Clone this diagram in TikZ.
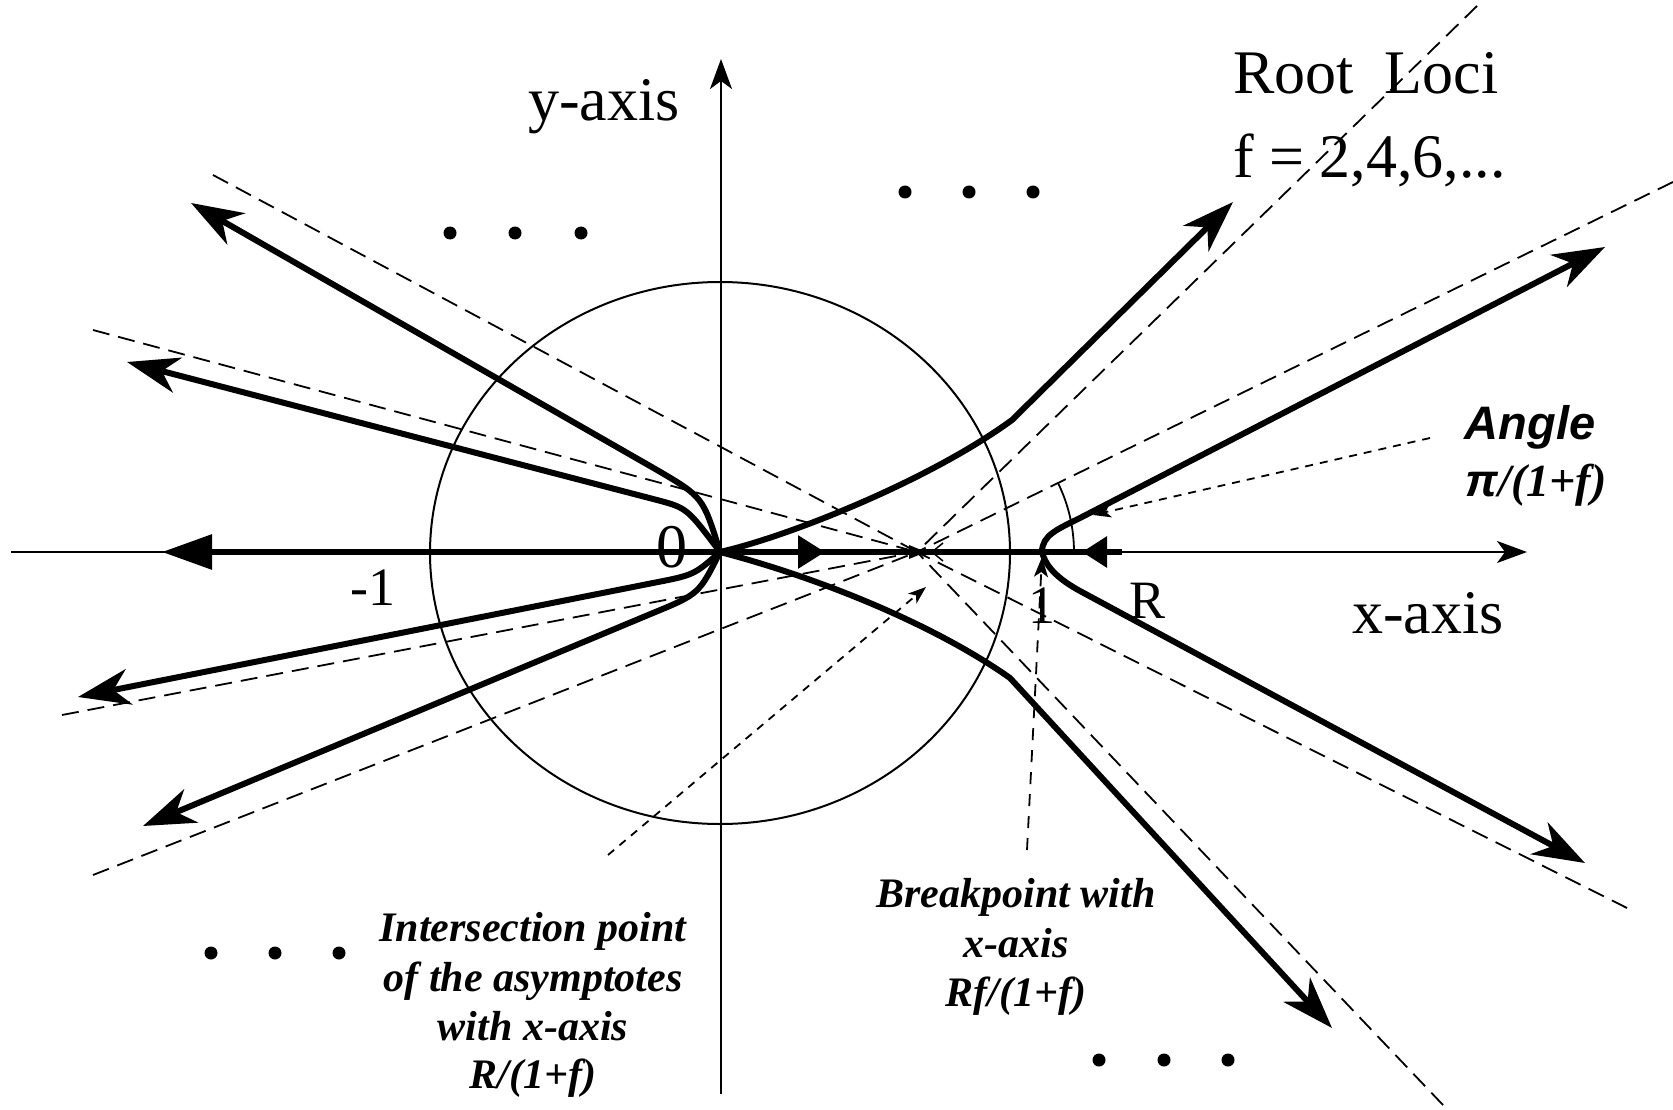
\documentclass[tikz,border=0pt]{standalone}
\usepackage{fontspec}
\setmainfont{Liberation Serif}
\newfontfamily\sansfam{Liberation Sans}
\usetikzlibrary{arrows.meta}
\begin{document}
\begin{tikzpicture}[x=1pt,y=-1pt,
  locus/.style={line width=6pt, line join=round},
  locarrow/.style={locus, -{Stealth[length=52pt,width=36pt,inset=16pt]}},
  axisline/.style={line width=2pt, -{Stealth[length=30pt,width=22pt,inset=8pt]}},
  asym/.style={line width=1.8pt, dash pattern=on 17pt off 9pt},
  pointer/.style={line width=1.8pt, dash pattern=on 8pt off 7pt, -{Stealth[length=18pt,width=13pt,inset=5pt]}},
  lbl/.style={inner sep=0pt},
  roman/.style={lbl, font=\fontsize{62}{70}\selectfont},
  smallroman/.style={lbl, font=\fontsize{54}{60}\selectfont},
  bilabel/.style={lbl, anchor=base, font=\fontsize{42}{50}\selectfont\bfseries\itshape},
  dotmark/.style={circle, fill, inner sep=0pt, minimum size=13pt},
]
\useasboundingbox (0,0) rectangle (1673,1110);
\fill[white] (0,0) rectangle (1673,1110);

% key points
\coordinate (O) at (720,552);
\coordinate (P) at (917,552);
\coordinate (B) at (1042,552);
\coordinate (C) at (720,553);

% axes
\coordinate (xs) at (11,552);
\coordinate (xe) at (1527,552);
\coordinate (ys) at (721,1094);
\coordinate (ye) at (721,59);
\draw[axisline] (xs) -- (xe);
\draw[axisline] (ys) -- (ye);

% unit circle
\draw[line width=2pt] (C) ellipse [x radius=290, y radius=271];

% asymptotes
\coordinate (d1) at (213,175);
\coordinate (d2) at (93,330);
\coordinate (d3) at (62,715);
\coordinate (d4) at (93,875);
\coordinate (d5) at (1477,6);
\coordinate (d6) at (1673,182);
\coordinate (d7) at (1627,908);
\coordinate (d8) at (1443,1105);
\foreach \d in {d1,d2,d3,d4,d5,d6,d7,d8} \draw[asym] (\d) -- (P);

% loci along the x-axis
\coordinate (la) at (162,552);
\draw[locus, -{Triangle[length=50pt,width=34pt]}] (O) -- (la);
\coordinate (mid) at (825,552);
\draw[locus] (O) -- (B);
\draw[locus, -{Triangle[length=27pt,width=32pt]}] (O) -- (mid);
\coordinate (rs) at (1122,552);
\coordinate (rt) at (1082,552);
\draw[locus] (rs) -- (B);
\draw[locus, -{Triangle[length=25pt,width=30pt]}] (rs) -- (rt);

% branches leaving the origin
\coordinate (ta) at (191,203);
\coordinate (tb) at (127,362);
\coordinate (tc) at (78,697);
\coordinate (te) at (143,826);
\coordinate (tf) at (1233,202);
\coordinate (tg) at (1332,1028);
\draw[locarrow] (O) .. controls (703,497) .. (657,470) -- (ta);
\draw[locarrow] (O) .. controls (687,508) .. (657,500) -- (tb);
\draw[locarrow] (O) .. controls (694,575) .. (653,583) -- (tc);
\draw[locarrow] (O) .. controls (699,594) .. (653,613) -- (te);
\draw[locarrow] (O) .. controls (790,536) and (930,480) .. (1012,420) -- (tf);
\draw[locarrow] (O) .. controls (820,578) and (935,625) .. (1010,678) -- (tg);

% branches leaving the breakpoint
\coordinate (th) at (1585,863);
\coordinate (ti) at (1605,247);
\draw[locarrow] (B) .. controls (1046,568) and (1060,580) .. (1080,591) -- (th);
\draw[locarrow] (B) .. controls (1042,535) and (1058,529) .. (1080,518) -- (ti);

% small marks at the intersection point
\fill (909,545) -- (926,552) -- (909,559) -- cycle;
\draw[line width=1.5pt] (943,543) -- (932,552) -- (943,561);

% angle arc
\draw[line width=1.8pt] (1058.1,483.2) arc[start angle=26, end angle=0, radius=157pt];

% pointers
\coordinate (pi1) at (608,855);
\coordinate (pi2) at (926,587);
\draw[pointer] (pi1) -- (pi2);
\coordinate (pa1) at (1430,438);
\coordinate (pa2) at (1093,515);
\draw[pointer] (pa1) -- (pa2);
\coordinate (pb1) at (1027,850);
\coordinate (pb2) at (1042,557);
\draw[line width=1.8pt, dash pattern=on 12pt off 10pt, -{Stealth[length=20pt,width=14pt,inset=5pt]}] (pb1) -- (pb2);

% dots
\foreach \x/\y [count=\i] in {450/233,515/233,581/233,905/192,969/192,1033/192,211/953,275/953,339/953,1099/1060,1164/1060,1228/1060}
  \node[dotmark] (dot\i) at (\x,\y) {};

% labels
\node[roman] (ylab) at (604,107) {y-axis};
\node[roman, anchor=west] (title1) at (1233,73) {Root\ \ Loci};
\node[roman, anchor=west] (title2) at (1233,160) {f = 2,4,6,...};
\node[roman] (zero) at (672,547) {0};
\node[smallroman] (mone) at (373,588) {-1};
\node[smallroman] (one) at (1042,606) {1};
\node[smallroman] (rlab) at (1147,601) {R};
\node[roman] (xlab) at (1428,613) {x-axis};
\node[lbl, font=\sansfam\bfseries\itshape\fontsize{47}{55}\selectfont] (ang1) at (1530,427) {Angle};
\node[lbl, font=\fontsize{46}{55}\selectfont\bfseries\itshape] (ang2) at (1536,485) {{\sansfam π}/(1+f)};

\node[bilabel] (in1) at (533,941) {Intersection point};
\node[bilabel] (in2) at (533,991) {of the asymptotes};
\node[bilabel] (in3) at (533,1040) {with x-axis};
\node[bilabel] (in4) at (533,1088) {R/(1+f)};

\node[bilabel] (bp1) at (1016,907) {Breakpoint with};
\node[bilabel] (bp2) at (1016,957) {x-axis};
\node[bilabel] (bp3) at (1016,1006) {Rf/(1+f)};
\end{tikzpicture}
\end{document}
